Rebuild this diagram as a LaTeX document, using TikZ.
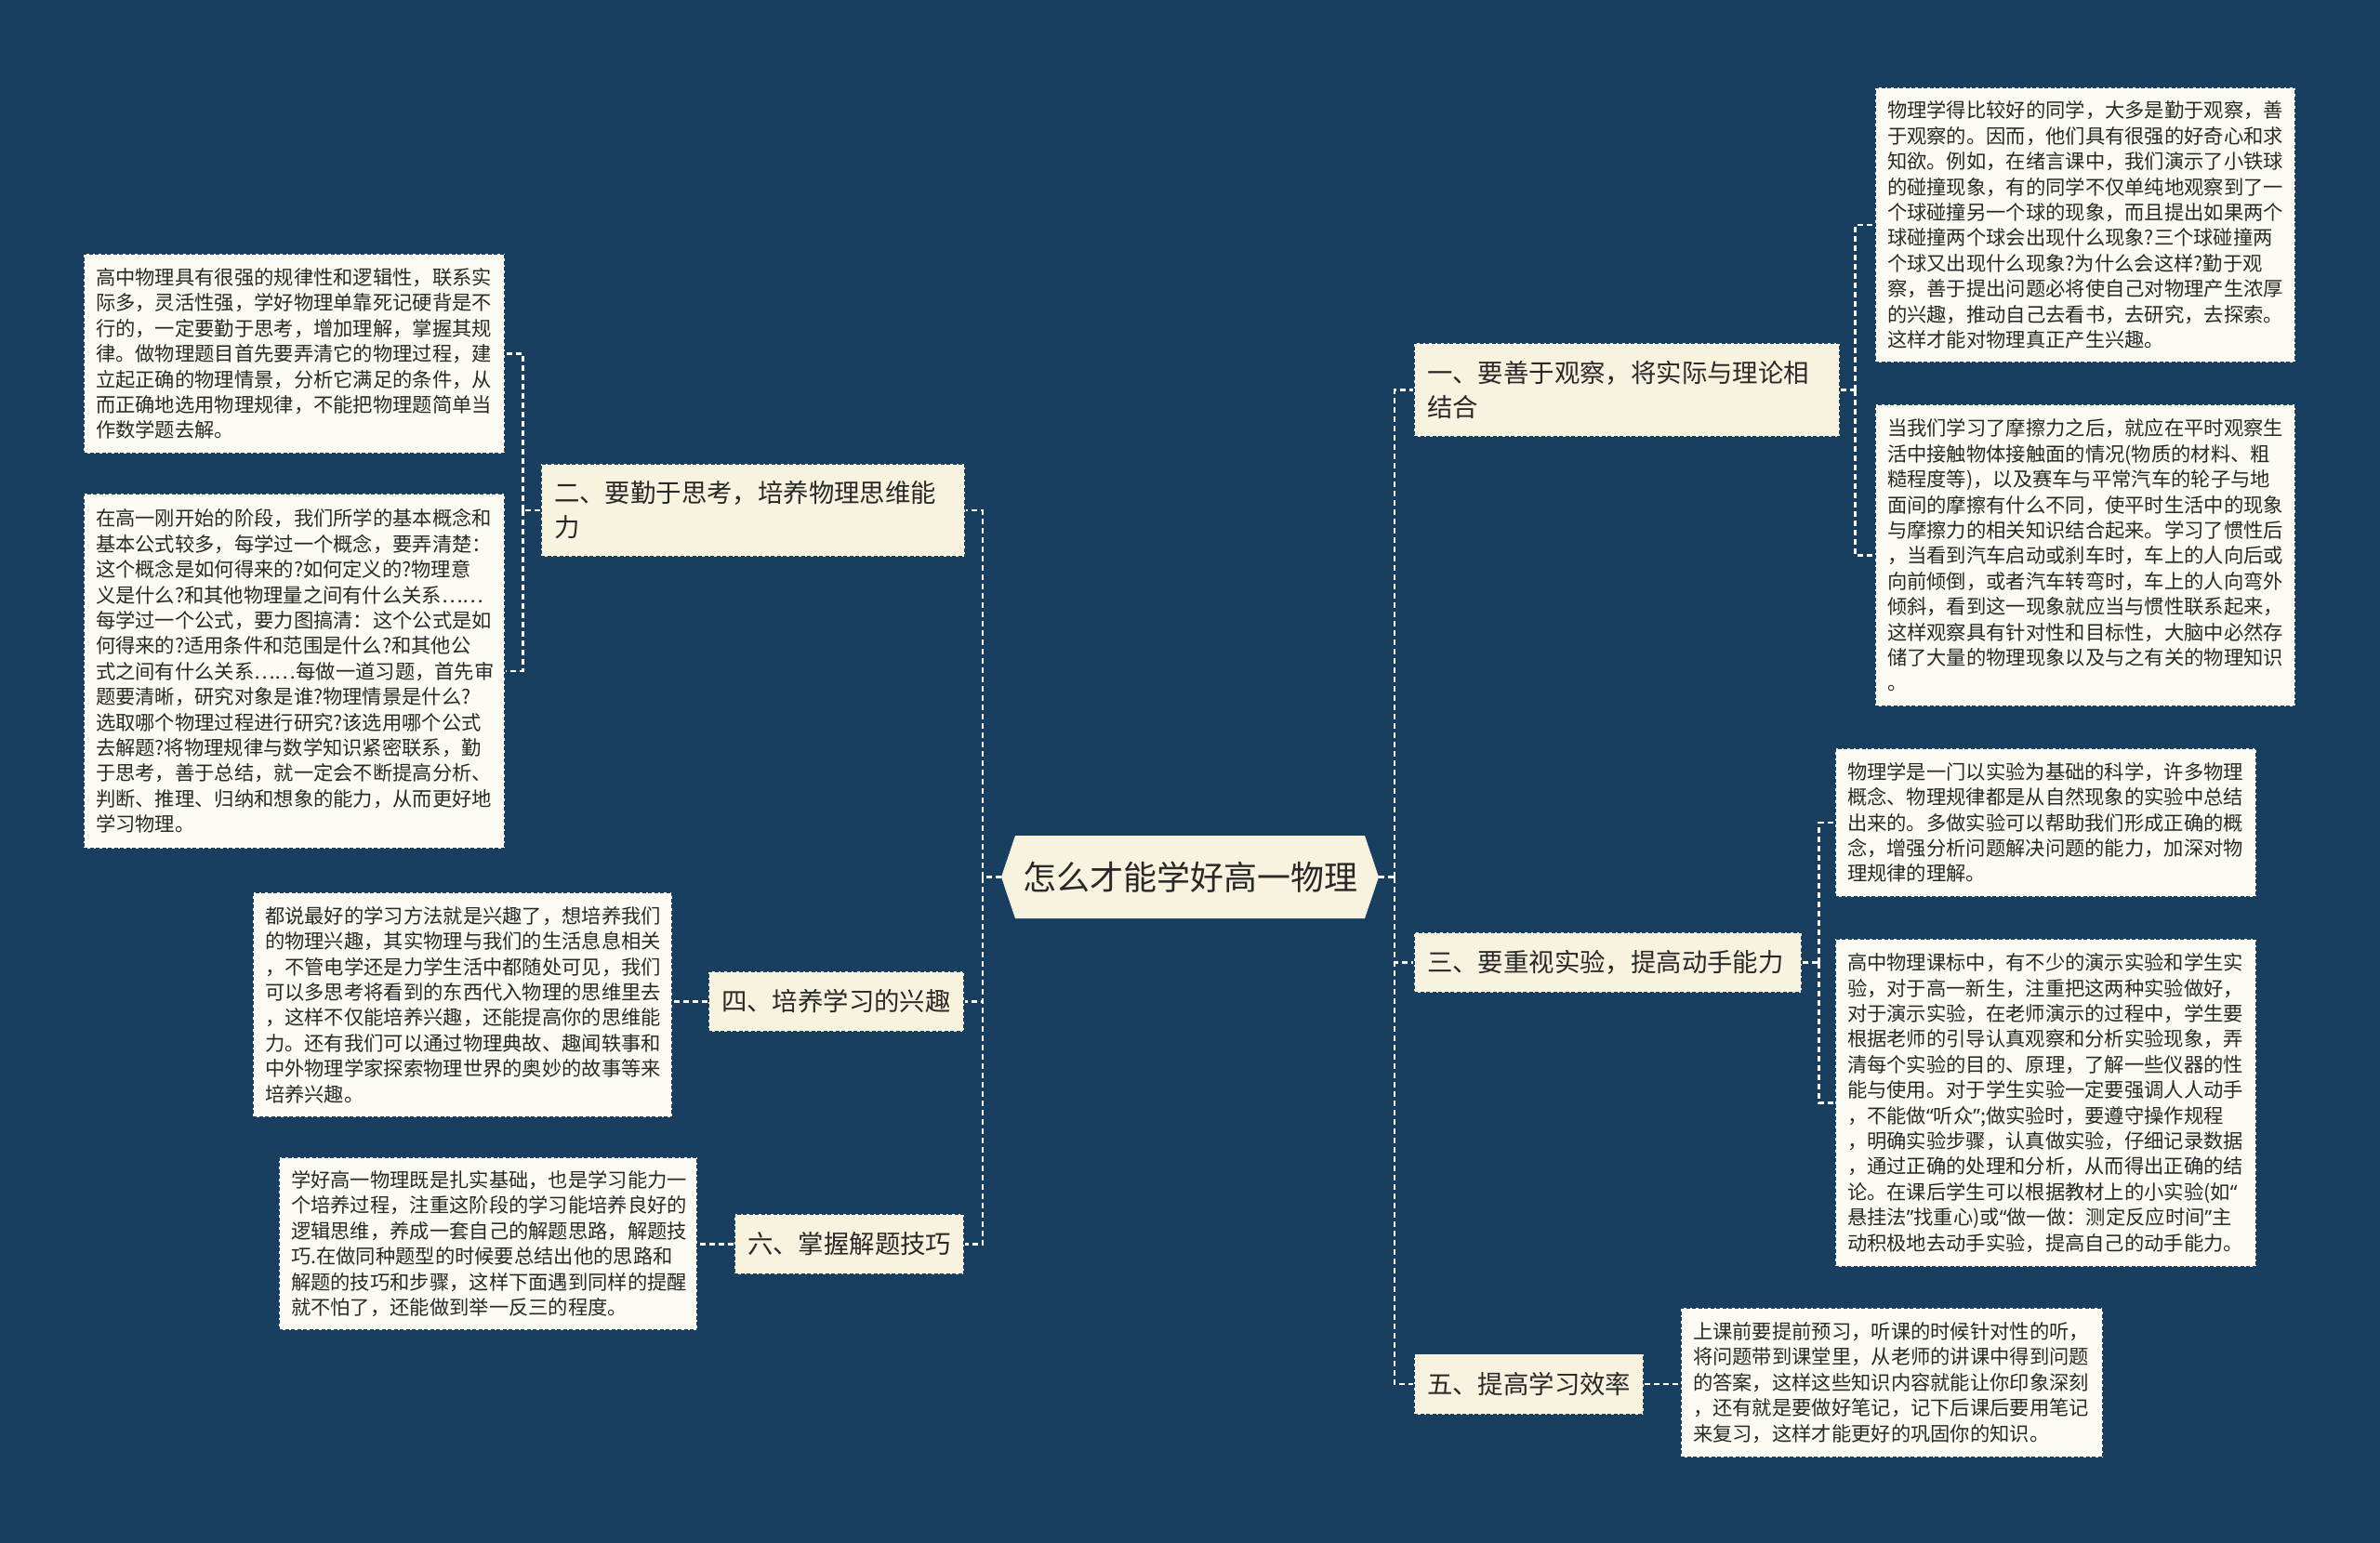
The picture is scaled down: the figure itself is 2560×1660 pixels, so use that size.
\documentclass[tikz,border=0pt]{standalone}
\usepackage{fontspec}
\setmainfont{Noto Sans CJK SC}
\newfontfamily\qfont{Noto Sans}
\usetikzlibrary{calc}
\definecolor{bg}{RGB}{24,62,96}
\definecolor{leaffill}{RGB}{253,252,244}
\definecolor{brfill}{RGB}{248,243,223}
\definecolor{hubfill}{RGB}{248,243,223}
\definecolor{txt}{RGB}{40,40,40}
\newcommand\leaffont{\fontsize{21.3}{27.4}\selectfont}
\newcommand\brfont{\fontsize{27.4}{37}\selectfont}
\newcommand\hubfont{\fontsize{36}{40}\selectfont}
\newcommand\myoq{{\qfont “}}
\newcommand\mycq{{\qfont ”}}
\begin{document}
\begin{tikzpicture}[x=1pt,y=-1pt,
  leaf/.style={fill=leaffill, draw=bg, dash pattern=on 4pt off 2.5pt, line width=1.2pt, inner xsep=13pt, inner ysep=0pt, align=left, text=txt, font=\leaffont},
  branch/.style={fill=brfill, draw=bg, dash pattern=on 4pt off 2.5pt, line width=1.2pt, inner xsep=14pt, inner ysep=0pt, align=left, text=txt, font=\brfont},
  hub/.style={inner sep=0pt, minimum width=406pt, minimum height=89pt, text=txt, font=\hubfont},
  conn/.style={white, line width=2.5pt, dash pattern=on 6pt off 4pt}]
\fill[bg] (0,0) rectangle (2560,1660);
\useasboundingbox (0,0) rectangle (2560,1660);

% central topic
\fill[hubfill] (1077,943.5) -- (1092,899) -- (1468,899) -- (1483,943.5) -- (1468,988) -- (1092,988) -- cycle;
\node[hub] (c) at (1280,943.5) {怎么才能学好高一物理};

% branches
\node[branch, text width=430pt, minimum height=101pt] (b1) at (1750,419.5) {一、要善于观察，将实际与理论相\\结合};
\node[branch, text width=428pt, minimum height=100pt] (b2) at (810,549) {二、要勤于思考，培养物理思维能\\力};
\node[branch, text width=389pt, minimum height=65pt] (b3) at (1729.5,1035.5) {三、要重视实验，提高动手能力};
\node[branch, text width=247pt, minimum height=65pt] (b4) at (899.5,1077.5) {四、培养学习的兴趣};
\node[branch, text width=219pt, minimum height=65pt] (b5) at (1644.5,1489) {五、提高学习效率};
\node[branch, text width=219pt, minimum height=65pt] (b6) at (913.5,1338.5) {六、掌握解题技巧};

% leaves
\node[leaf, text width=426pt, minimum height=296pt] (l1a) at (2243,242) {物理学得比较好的同学，大多是勤于观察，善\\于观察的。因而，他们具有很强的好奇心和求\\知欲。例如，在绪言课中，我们演示了小铁球\\的碰撞现象，有的同学不仅单纯地观察到了一\\个球碰撞另一个球的现象，而且提出如果两个\\球碰撞两个球会出现什么现象?三个球碰撞两\\个球又出现什么现象?为什么会这样?勤于观\\察，善于提出问题必将使自己对物理产生浓厚\\的兴趣，推动自己去看书，去研究，去探索。\\这样才能对物理真正产生兴趣。};
\node[leaf, text width=426pt, minimum height=325pt] (l1b) at (2243,597.5) {当我们学习了摩擦力之后，就应在平时观察生\\活中接触物体接触面的情况(物质的材料、粗\\糙程度等)，以及赛车与平常汽车的轮子与地\\面间的摩擦有什么不同，使平时生活中的现象\\与摩擦力的相关知识结合起来。学习了惯性后\\，当看到汽车启动或刹车时，车上的人向后或\\向前倾倒，或者汽车转弯时，车上的人向弯外\\倾斜，看到这一现象就应当与惯性联系起来，\\这样观察具有针对性和目标性，大脑中必然存\\储了大量的物理现象以及与之有关的物理知识\\。};
\node[leaf, text width=427pt, minimum height=160pt] (l3a) at (2200.5,885) {物理学是一门以实验为基础的科学，许多物理\\概念、物理规律都是从自然现象的实验中总结\\出来的。多做实验可以帮助我们形成正确的概\\念，增强分析问题解决问题的能力，加深对物\\理规律的理解。};
\node[leaf, text width=427pt, minimum height=353pt] (l3b) at (2200.5,1186.5) {高中物理课标中，有不少的演示实验和学生实\\验，对于高一新生，注重把这两种实验做好，\\对于演示实验，在老师演示的过程中，学生要\\根据老师的引导认真观察和分析实验现象，弄\\清每个实验的目的、原理，了解一些仪器的性\\能与使用。对于学生实验一定要强调人人动手\\，不能做\myoq 听众\mycq;做实验时，要遵守操作规程\\，明确实验步骤，认真做实验，仔细记录数据\\，通过正确的处理和分析，从而得出正确的结\\论。在课后学生可以根据教材上的小实验(如\myoq\\悬挂法\mycq 找重心)或\myoq 做一做：测定反应时间\mycq 主\\动积极地去动手实验，提高自己的动手能力。};
\node[leaf, text width=428pt, minimum height=161pt] (l5) at (2035,1487.5) {上课前要提前预习，听课的时候针对性的听，\\将问题带到课堂里，从老师的讲课中得到问题\\的答案，这样这些知识内容就能让你印象深刻\\，还有就是要做好笔记，记下后课后要用笔记\\来复习，这样才能更好的巩固你的知识。};
\node[leaf, text width=427pt, minimum height=215pt] (l2a) at (316.5,380.5) {高中物理具有很强的规律性和逻辑性，联系实\\际多，灵活性强，学好物理单靠死记硬背是不\\行的，一定要勤于思考，增加理解，掌握其规\\律。做物理题目首先要弄清它的物理过程，建\\立起正确的物理情景，分析它满足的条件，从\\而正确地选用物理规律，不能把物理题简单当\\作数学题去解。};
\node[leaf, text width=427pt, minimum height=382pt] (l2b) at (316.5,722) {在高一刚开始的阶段，我们所学的基本概念和\\基本公式较多，每学过一个概念，要弄清楚：\\这个概念是如何得来的?如何定义的?物理意\\义是什么?和其他物理量之间有什么关系……\\每学过一个公式，要力图搞清：这个公式是如\\何得来的?适用条件和范围是什么?和其他公\\式之间有什么关系……每做一道习题，首先审\\题要清晰，研究对象是谁?物理情景是什么?\\选取哪个物理过程进行研究?该选用哪个公式\\去解题?将物理规律与数学知识紧密联系，勤\\于思考，善于总结，就一定会不断提高分析、\\判断、推理、归纳和想象的能力，从而更好地\\学习物理。};
\node[leaf, text width=425pt, minimum height=242pt] (l4) at (497.5,1081) {都说最好的学习方法就是兴趣了，想培养我们\\的物理兴趣，其实物理与我们的生活息息相关\\，不管电学还是力学生活中都随处可见，我们\\可以多思考将看到的东西代入物理的思维里去\\，这样不仅能培养兴趣，还能提高你的思维能\\力。还有我们可以通过物理典故、趣闻轶事和\\中外物理学家探索物理世界的奥妙的故事等来\\培养兴趣。};
\node[leaf, text width=424pt, minimum height=186pt] (l6) at (525,1338) {学好高一物理既是扎实基础，也是学习能力一\\个培养过程，注重这阶段的学习能培养良好的\\逻辑思维，养成一套自己的解题思路，解题技\\巧.在做同种题型的时候要总结出他的思路和\\解题的技巧和步骤，这样下面遇到同样的提醒\\就不怕了，还能做到举一反三的程度。};

% connectors
\coordinate (jr) at ($(c.east)+(17,0)$);
\coordinate (jl) at ($(c.west)+(-20,0)$);
\draw[conn] (c.east) -- (jr);
\draw[conn] (jr) |- (b1.west);
\draw[conn] (jr) |- (b3.west);
\draw[conn] (jr) |- (b5.west);
\draw[conn] (c.west) -- (jl);
\draw[conn] (jl) |- (b2.east);
\draw[conn] (jl) |- (b4.east);
\draw[conn] (jl) |- (b6.east);

\coordinate (j1) at ($(b1.east)+(16,0)$);
\draw[conn] (b1.east) -- (j1);
\draw[conn] (j1) |- (l1a.west);
\draw[conn] (j1) |- (l1b.west);

\coordinate (j3) at ($(b3.east)+(18,0)$);
\draw[conn] (b3.east) -- (j3);
\draw[conn] (j3) |- (l3a.west);
\draw[conn] (j3) |- (l3b.west);

\draw[conn] (b5.east) -- (b5.east -| l5.west);

\coordinate (j2) at ($(b2.west)+(-19,0)$);
\draw[conn] (b2.west) -- (j2);
\draw[conn] (j2) |- (l2a.east);
\draw[conn] (j2) |- (l2b.east);

\draw[conn] (b4.west) -- (b4.west -| l4.east);
\draw[conn] (b6.west) -- (b6.west -| l6.east);
\end{tikzpicture}
\end{document}
